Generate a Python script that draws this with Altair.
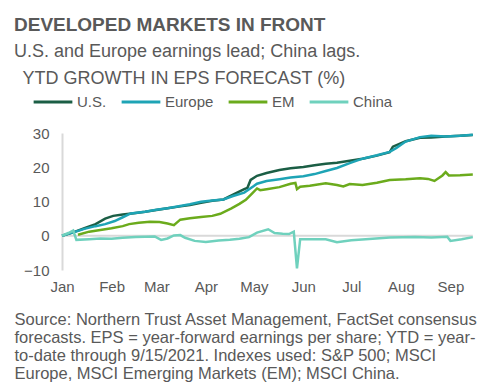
import altair as alt
import pandas as pd

FONT = "Liberation Sans"
TXT = "#595959"

# ---- data ----
us_dates = ["2021-01-01","2021-01-08","2021-01-15","2021-01-22","2021-01-28","2021-02-02","2021-02-08",
            "2021-02-15","2021-02-22","2021-03-01","2021-03-08","2021-03-15","2021-03-22","2021-03-29",
            "2021-04-05","2021-04-12","2021-04-18","2021-04-25","2021-04-27","2021-04-29","2021-05-03",
            "2021-05-09","2021-05-17","2021-05-24","2021-06-01","2021-06-08","2021-06-15","2021-06-22",
            "2021-06-30","2021-07-08","2021-07-17","2021-07-25","2021-07-27","2021-08-04","2021-08-13",
            "2021-08-20","2021-08-29","2021-09-07","2021-09-15"]
us_vals = [0, 1.0, 2.2, 3.4, 5.0, 5.8, 6.2, 6.6, 7.0, 7.5, 8.0, 8.5, 9.0, 9.6, 10.2, 10.6, 12.0, 13.6,
           14.0, 16.3, 17.5, 18.3, 19.2, 19.7, 20.1, 20.6, 21.0, 21.3, 21.9, 22.5, 23.4, 24.4, 26.0,
           27.6, 28.6, 28.7, 29.0, 29.2, 29.4]

eu_dates = ["2021-01-01","2021-01-08","2021-01-15","2021-01-22","2021-01-28","2021-02-03","2021-02-08",
            "2021-02-13","2021-02-22","2021-03-01","2021-03-08","2021-03-15","2021-03-22","2021-03-29",
            "2021-04-05","2021-04-12","2021-04-18","2021-04-25","2021-05-01","2021-05-03","2021-05-09",
            "2021-05-17","2021-05-24","2021-06-01","2021-06-08","2021-06-15","2021-06-22","2021-06-30",
            "2021-07-08","2021-07-17","2021-07-25","2021-07-29","2021-08-04","2021-08-13","2021-08-20",
            "2021-08-29","2021-09-07","2021-09-15"]
eu_vals = [0, 1.0, 2.0, 2.8, 3.4, 4.3, 5.4, 6.5, 7.0, 7.6, 8.0, 8.6, 9.2, 9.9, 10.3, 10.6, 11.6, 12.6,
           14.5, 15.2, 16.0, 16.5, 17.0, 17.4, 18.0, 18.9, 19.8, 21.2, 22.5, 23.5, 24.5, 25.6, 27.5,
           28.8, 29.2, 29.0, 29.2, 29.5]

em_dates = ["2021-01-11","2021-01-18","2021-01-25","2021-02-01","2021-02-08","2021-02-12","2021-02-18",
            "2021-02-25","2021-03-03","2021-03-08","2021-03-12","2021-03-16","2021-03-22","2021-03-29",
            "2021-04-05","2021-04-10","2021-04-17","2021-04-22","2021-04-26","2021-04-30","2021-05-03",
            "2021-05-05","2021-05-09","2021-05-17","2021-05-24","2021-05-27","2021-05-28","2021-05-30",
            "2021-06-05","2021-06-15","2021-06-22","2021-06-26","2021-06-30","2021-07-08","2021-07-17",
            "2021-07-25","2021-08-04","2021-08-13","2021-08-18","2021-08-22","2021-08-27","2021-08-29",
            "2021-08-31","2021-09-07","2021-09-15"]
em_vals = [0.3, 1.2, 1.7, 2.2, 2.8, 3.4, 3.8, 4.1, 4.0, 3.6, 3.1, 4.7, 5.1, 5.5, 5.8, 6.4, 8.0, 9.3,
           10.5, 12.4, 13.8, 13.3, 13.6, 14.2, 15.2, 15.4, 13.6, 14.3, 14.6, 15.3, 14.8, 14.4, 15.1,
           14.8, 15.5, 16.3, 16.5, 16.8, 16.6, 16.0, 17.6, 18.6, 17.6, 17.7, 17.9]

cn_dates = ["2021-01-01","2021-01-05","2021-01-08","2021-01-10","2021-01-18","2021-01-25","2021-02-01",
            "2021-02-08","2021-02-16","2021-02-22","2021-02-28","2021-03-04","2021-03-08","2021-03-12",
            "2021-03-16","2021-03-19","2021-03-25","2021-04-01","2021-04-09","2021-04-16","2021-04-22",
            "2021-04-28","2021-05-03","2021-05-10","2021-05-14","2021-05-19","2021-05-23","2021-05-26",
            "2021-05-28","2021-05-30","2021-06-15","2021-06-22","2021-07-01","2021-07-10","2021-07-25",
            "2021-08-10","2021-08-20","2021-08-30","2021-09-01","2021-09-08","2021-09-15"]
cn_vals = [0, 0.8, 1.5, -1.2, -1.0, -0.8, -0.9, -0.6, -0.4, -0.3, -0.2, -1.2, -0.8, 0.1, 0.2, -0.6,
           -1.5, -1.8, -1.4, -1.2, -0.9, -0.4, 0.9, 1.9, 0.8, 0.6, 0.5, 1.2, -9.5, -1.0, -1.0, -1.9,
           -1.3, -1.0, -0.5, -0.4, -0.5, -0.3, -1.5, -1.0, -0.4]

series_names = ["U.S.", "Europe", "EM", "China"]
series_colors = ["#1b5e45", "#1ea4b5", "#6bab1c", "#6fd1bd"]
month_ticks = ["2021-01-01","2021-02-01","2021-03-01","2021-04-01","2021-05-01","2021-06-01",
               "2021-07-01","2021-08-01","2021-09-01"]
y_ticks = [-10, 0, 10, 20, 30]

title_text = "DEVELOPED MARKETS IN FRONT"
subtitle_text = "U.S. and Europe earnings lead; China lags."
y_title = "YTD GROWTH IN EPS FORECAST (%)"
footer_lines = ["Source: Northern Trust Asset Management, FactSet consensus",
                "forecasts. EPS = year-forward earnings per share; YTD = year-",
                "to-date through 9/15/2021. Indexes used: S&P 500; MSCI",
                "Europe, MSCI Emerging Markets (EM); MSCI China."]

frames = []
for name, d, v in [("U.S.", us_dates, us_vals), ("Europe", eu_dates, eu_vals),
                   ("EM", em_dates, em_vals), ("China", cn_dates, cn_vals)]:
    frames.append(pd.DataFrame({"date": d, "value": v, "series": name}))
df = pd.concat(frames, ignore_index=True)
df["order"] = df["series"].map({"U.S.": 2, "Europe": 3, "EM": 1, "China": 0})

zero_df = pd.DataFrame({"x": ["2021-01-01"], "x2": ["2021-09-15"], "y": [0]})

x_scale = alt.Scale(domain=["2021-01-01", "2021-09-22"])
y_scale = alt.Scale(domain=[-10, 30], nice=False)

x_axis = alt.Axis(values=month_ticks, format="%b", labelFontSize=15, labelColor=TXT,
                  labelFont=FONT, ticks=False, domain=False, grid=False, labelPadding=9,
                  labelFlush=False, labelOverlap=False,
                  title=footer_lines, titleFont=FONT, titleFontSize=16.5,
                  titleFontWeight="normal", titleColor=TXT, titleAnchor="start",
                  titleAlign="left", titleBaseline="alphabetic", titleX=-48, titleY=54,
                  titleLineHeight=18)
y_axis = alt.Axis(values=y_ticks, labelFontSize=15, labelColor=TXT, labelFont=FONT,
                  ticks=False, grid=False, domainColor="#d9d9d9", domainWidth=2,
                  labelPadding=13, labelOverlap=False, labelFlush=False,
                  title=y_title, titleFont=FONT, titleFontSize=18, titleFontWeight="normal",
                  titleColor=TXT, titleAngle=0, titleAlign="left",
                  titleBaseline="alphabetic", titleX=-40, titleY=-50)

zero = alt.Chart(zero_df).mark_rule(color="#d9d9d9", strokeWidth=2).encode(
    x=alt.X("x:T", scale=x_scale, axis=x_axis),
    x2="x2:T",
    y=alt.Y("y:Q", scale=y_scale, axis=y_axis),
)

lines = alt.Chart(df).mark_line(strokeWidth=2.5).encode(
    x=alt.X("date:T", scale=x_scale, axis=x_axis),
    y=alt.Y("value:Q", scale=y_scale, axis=y_axis),
    color=alt.Color("series:N", scale=alt.Scale(domain=series_names, range=series_colors),
                    legend=alt.Legend(title=None, orient="none", direction="horizontal",
                                      legendX=-30, legendY=-52, symbolType="stroke",
                                      symbolSize=1500, symbolStrokeWidth=3, labelFontSize=15,
                                      labelFont=FONT, labelColor=TXT, labelOffset=3,
                                      columnPadding=8, padding=0, columns=4)),
    detail="series:N",
    order="order:Q",
)

chart = alt.layer(zero, lines).properties(
    width=422, height=137,
    autosize=alt.AutoSizeParams(type="none"),
    padding={"left": 54, "top": 125, "right": 8, "bottom": 112},
    title=alt.TitleParams(text=title_text, subtitle=subtitle_text, anchor="start", frame="group",
                          font=FONT, fontSize=19, fontWeight="bold", color=TXT,
                          subtitleFont=FONT, subtitleFontSize=18, subtitleColor=TXT,
                          subtitlePadding=8, offset=8, dx=-48),
).configure_view(stroke=None)

chart.save("out.html", embed_options={"renderer": "svg", "actions": False})
